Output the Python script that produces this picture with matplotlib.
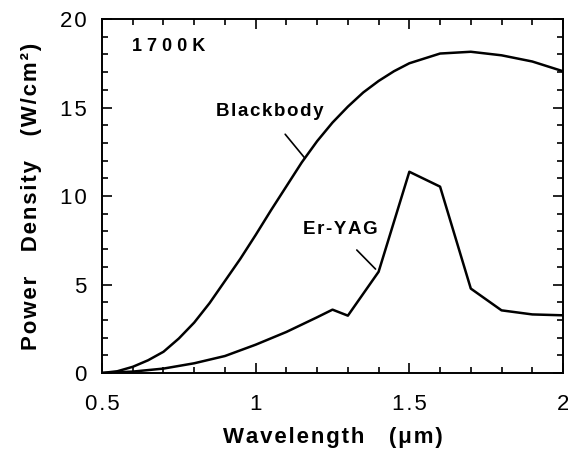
import numpy as np
import matplotlib
matplotlib.use("Agg")
import matplotlib.pyplot as plt
from matplotlib.ticker import MultipleLocator, FixedLocator

# Spectral power density at 1700 K
wavelength_bb = [0.5, 0.55, 0.6, 0.65, 0.7, 0.75, 0.8, 0.85, 0.9, 0.95, 1.0,
                 1.05, 1.1, 1.15, 1.2, 1.25, 1.3, 1.35, 1.4, 1.45, 1.5,
                 1.6, 1.7, 1.8, 1.9, 2.0]
blackbody = [0.0, 0.1, 0.35, 0.72, 1.2, 1.95, 2.85, 3.95, 5.2, 6.45, 7.8,
             9.2, 10.55, 11.9, 13.1, 14.15, 15.05, 15.85, 16.5, 17.05, 17.5,
             18.05, 18.15, 17.95, 17.6, 17.05]

wavelength_er = [0.5, 0.6, 0.7, 0.8, 0.9, 1.0, 1.1, 1.2, 1.25, 1.3, 1.4,
                 1.5, 1.6, 1.7, 1.8, 1.9, 2.0]
er_yag = [0.0, 0.08, 0.25, 0.55, 0.96, 1.6, 2.32, 3.15, 3.58, 3.24, 5.72,
          11.37, 10.53, 4.77, 3.54, 3.31, 3.26]

x_ticks = [0.5, 1.0, 1.5, 2.0]
x_tick_labels = ["0.5", "1", "1.5", "2"]
y_ticks = [0, 5, 10, 15, 20]
y_tick_labels = ["0", "5", "10", "15", "20"]

HAIR = "\u200a"


def tracked(s):
    """Spread the letters of a string slightly apart."""
    return HAIR.join(s)


plt.rcParams["font.family"] = ["Liberation Sans", "DejaVu Sans"]

fig = plt.figure(figsize=(5.68, 4.54), dpi=100)
ax = fig.add_axes([0.1796, 0.1784, 0.9912 - 0.1796, 0.9581 - 0.1784])

ax.plot(wavelength_bb, blackbody, color="black", lw=1.8, solid_joinstyle="round")
ax.plot(wavelength_er, er_yag, color="black", lw=1.8, solid_joinstyle="round")

ax.set_xlim(0.5, 2.0)
ax.set_ylim(0, 20)
ax.xaxis.set_major_locator(FixedLocator(x_ticks))
ax.set_xticklabels([tracked(t) for t in x_tick_labels])
ax.yaxis.set_major_locator(FixedLocator(y_ticks))
ax.set_yticklabels([tracked(t) for t in y_tick_labels])
ax.xaxis.set_minor_locator(MultipleLocator(0.1))
ax.yaxis.set_minor_locator(MultipleLocator(1))
ax.tick_params(which="both", direction="in", top=True, right=True,
               width=1.2, labelsize=16)
ax.tick_params(which="major", length=7)
ax.tick_params(which="minor", length=4)
ax.tick_params(axis="x", pad=15)
ax.tick_params(axis="y", pad=11)
for s in ax.spines.values():
    s.set_linewidth(1.4)

ax.set_xlabel(tracked("Wavelength") + "    " + tracked("(\u03bcm)"),
              fontsize=16, fontweight="bold", labelpad=9)
ax.set_ylabel(tracked("Power") + "    " + tracked("Density") + "    "
              + tracked("(W/cm\u00b2)"),
              fontsize=16, fontweight="bold", labelpad=13)

ax.text(0.598, 18.45, "1 7 0 0 K", fontsize=13, fontweight="bold",
        ha="left", va="center")

# Curve labels with short leader lines
ax.text(1.045, 14.8, tracked("Blackbody"), fontsize=13.5, fontweight="bold",
        ha="center", va="center")
bb_x = 1.16
ax.annotate("", xy=(bb_x, np.interp(bb_x, wavelength_bb, blackbody)),
            xytext=(1.096, 13.49),
            arrowprops=dict(arrowstyle="-", lw=1.2, color="black",
                            shrinkA=0, shrinkB=0))

ax.text(1.277, 8.1, tracked("Er-YAG"), fontsize=13.5, fontweight="bold",
        ha="center", va="center")
er_x = 1.39
ax.annotate("", xy=(er_x, np.interp(er_x, wavelength_er, er_yag) + 0.4),
            xytext=(1.329, 6.95),
            arrowprops=dict(arrowstyle="-", lw=1.2, color="black",
                            shrinkA=0, shrinkB=0))

fig.savefig("out.png", dpi=100)
